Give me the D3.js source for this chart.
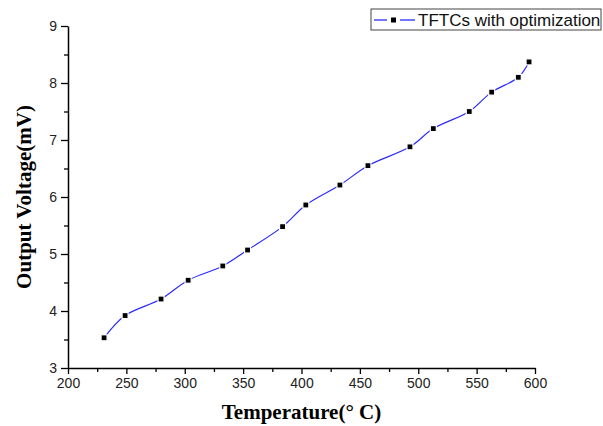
<!DOCTYPE html>
<html>
<head>
<meta charset="utf-8">
<script src="https://cdnjs.cloudflare.com/ajax/libs/d3/7.8.5/d3.min.js"></script>
<style>
    body { margin: 0; background: #fff; }
    .tick text { font-family: Arial, "Liberation Sans", sans-serif; font-size: 14px; fill: #222; }
    .axis-title { font-family: "Times New Roman", "Liberation Serif", serif; font-weight: bold; font-size: 21px; fill: #000; }
</style>
</head>
<body>
<div id="chart"></div>
<script>
// data
let temperature = [230.9, 248.9, 279.7, 302.9, 332.6, 353.8, 383.8, 403.7, 432.9, 456.9, 492.9, 512.9, 543.7, 562.9, 585.7, 594.9];
let voltage = [3.53, 3.92, 4.21, 4.54, 4.79, 5.07, 5.48, 5.86, 6.21, 6.55, 6.88, 7.20, 7.50, 7.84, 8.10, 8.37];
let xTicks = [200, 250, 300, 350, 400, 450, 500, 550, 600];
let yTicks = [3, 4, 5, 6, 7, 8, 9];
let seriesName = "TFTCs with optimization";

let width = 603, height = 426;
let margin = {top: 26, right: 68, bottom: 58, left: 68};

let svg = d3.select("#chart").append("svg")
    .attr("width", width)
    .attr("height", height);

let x = d3.scaleLinear().domain([200, 600]).range([margin.left, width - margin.right]);
let y = d3.scaleLinear().domain([3, 9]).range([height - margin.bottom, margin.top]);

let points = temperature.map((t, i) => ({t: t, v: voltage[i]}));

// minor ticks (halfway between majors)
let xMinor = d3.range(225, 600, 50);
let yMinor = d3.range(3.5, 9, 1);

svg.append("g")
    .attr("transform", `translate(0,${y(3)})`)
    .call(d3.axisBottom(x).tickValues(xMinor).tickSize(4).tickFormat(""))
    .call(g => g.select(".domain").remove())
    .selectAll("line").attr("stroke", "#000").attr("stroke-width", 1.3);

svg.append("g")
    .attr("transform", `translate(${x(200)},0)`)
    .call(d3.axisLeft(y).tickValues(yMinor).tickSize(4).tickFormat(""))
    .call(g => g.select(".domain").remove())
    .selectAll("line").attr("stroke", "#000").attr("stroke-width", 1.3);

// major axes
let xAxis = svg.append("g")
    .attr("transform", `translate(0,${y(3)})`)
    .call(d3.axisBottom(x).tickValues(xTicks).tickSize(6).tickSizeOuter(0).tickPadding(4).tickFormat(d3.format("d")));

let yAxis = svg.append("g")
    .attr("transform", `translate(${x(200)},0)`)
    .call(d3.axisLeft(y).tickValues(yTicks).tickSize(7).tickSizeOuter(0).tickPadding(4).tickFormat(d3.format("d")));

[xAxis, yAxis].forEach(a => {
    a.select(".domain").attr("stroke", "#000").attr("stroke-width", 1.5);
    a.selectAll(".tick line").attr("stroke", "#000").attr("stroke-width", 1.3);
});

// axis titles
svg.append("text")
    .attr("class", "axis-title")
    .attr("x", (x(200) + x(600)) / 2)
    .attr("y", 419)
    .attr("text-anchor", "middle")
    .text("Temperature(° C)");

svg.append("text")
    .attr("class", "axis-title")
    .attr("transform", `translate(31,${(y(3) + y(9)) / 2}) rotate(-90)`)
    .attr("text-anchor", "middle")
    .text("Output Voltage(mV)");

// spline through the points
let line = d3.line()
    .x(d => x(d.t))
    .y(d => y(d.v))
    .curve(d3.curveCatmullRom.alpha(0.5));

svg.append("path")
    .datum(points)
    .attr("fill", "none")
    .attr("stroke", "#2a2aff")
    .attr("stroke-width", 1.2)
    .attr("d", line);

// square markers, white rim gives the small gap in the line
svg.append("g").selectAll("rect")
    .data(points)
    .enter().append("rect")
    .attr("x", d => x(d.t) - 3)
    .attr("y", d => y(d.v) - 3)
    .attr("width", 6)
    .attr("height", 6)
    .attr("fill", "#000")
    .attr("stroke", "#fff")
    .attr("stroke-width", 1.2);

// legend
let legend = svg.append("g").attr("transform", "translate(371,9)");
legend.append("rect")
    .attr("width", 230)
    .attr("height", 21)
    .attr("fill", "#fff")
    .attr("stroke", "#444")
    .attr("stroke-width", 1);
// two blue dashes either side of the marker
[[3, 16], [29, 44]].forEach(s => {
    legend.append("line")
        .attr("x1", s[0]).attr("x2", s[1])
        .attr("y1", 11).attr("y2", 11)
        .attr("stroke", "#2a2aff")
        .attr("stroke-width", 1.3);
});
legend.append("rect")
    .attr("x", 20).attr("y", 8.5)
    .attr("width", 5).attr("height", 5)
    .attr("fill", "#000");
legend.append("text")
    .attr("x", 47)
    .attr("y", 17)
    .style("font-family", "Arial, 'Liberation Sans', sans-serif")
    .style("font-size", "17px")
    .attr("fill", "#111")
    .text(seriesName);
</script>
</body>
</html>
